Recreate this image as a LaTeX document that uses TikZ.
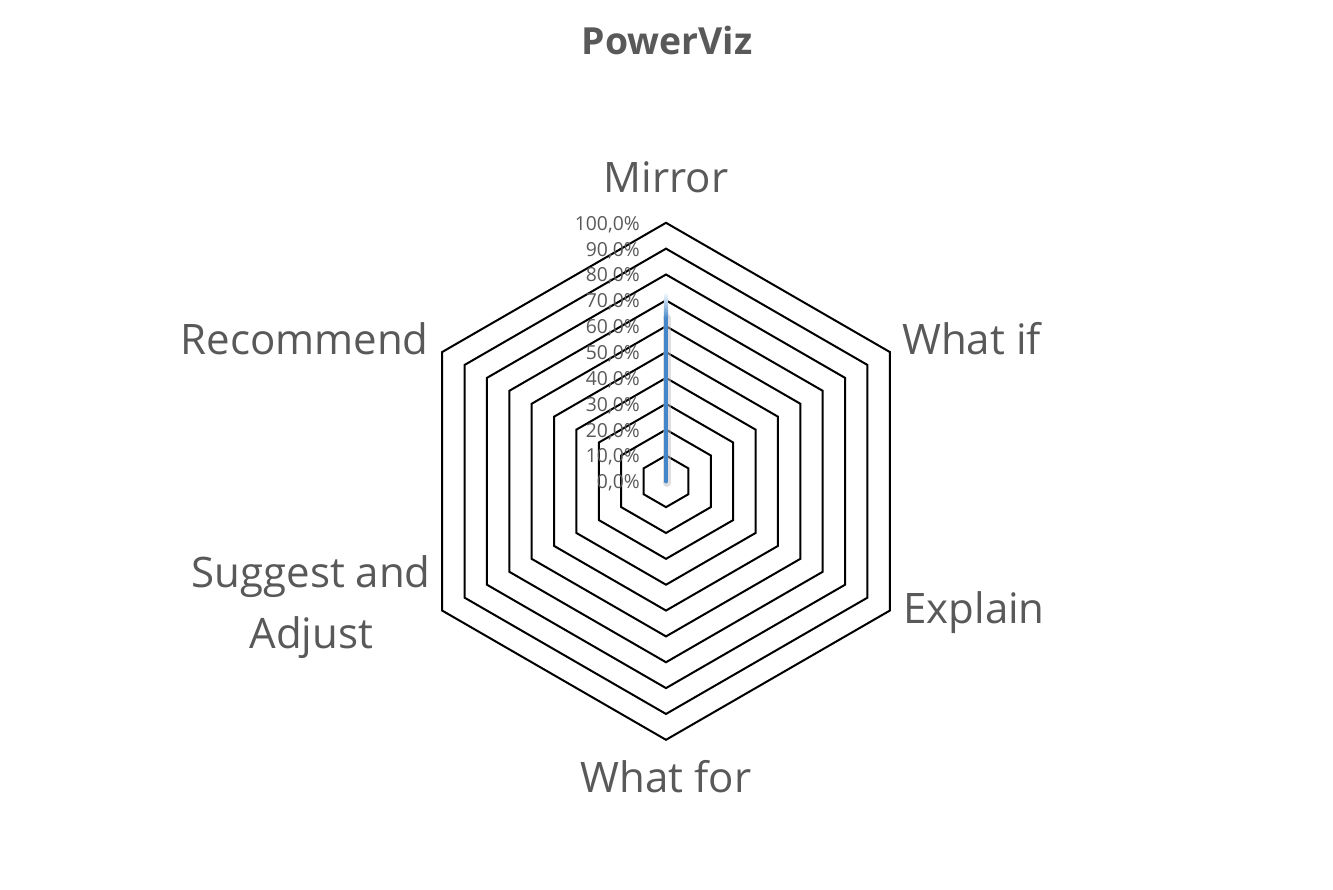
\documentclass[tikz,border=0pt]{standalone}
\usepackage{fontspec}
\usetikzlibrary{calc}
\setmainfont{Open Sans}
\definecolor{txtgray}{HTML}{595959}
\definecolor{serblue}{HTML}{4386C9}
\begin{document}
\begin{tikzpicture}[x=0.75pt,y=0.75pt,
  ring/.style={draw=black, line width=1.5pt, line join=miter},
  catlabel/.style={text=txtgray, inner sep=0pt, font=\fontsize{31.5}{45.75}\selectfont},
  ticklabel/.style={text=txtgray, inner sep=0pt, anchor=base east, font=\fontsize{14.5}{17}\selectfont},
  titlelabel/.style={text=txtgray, inner sep=0pt, anchor=base, font=\fontsize{28}{32}\selectfont\bfseries}]
\useasboundingbox[fill=white] (0,0) rectangle (1333,889);
\coordinate (c) at (666,407.7);
% rings
\foreach \k in {1,...,10}{
  \draw[ring] ($(c)+(90:25.85*\k)$) foreach \a in {30,-30,-90,-150,150} { -- ($(c)+(\a:25.85*\k)$) } -- cycle;
}
% tick labels
\foreach \k/\t in {0/0,1/10,2/20,3/30,4/40,5/50,6/60,7/70,8/80,9/90,10/100}{
  \node[ticklabel] (t\k) at (640, 407.7+25.85*\k-7.5) {\t,0\%};
}
% series line
\draw[black!25, line width=6pt, opacity=0.5, line cap=round] (667,406) -- (667,571);
\draw[serblue, line width=3.3pt, line cap=round] (c) -- (666,571);
\shade[bottom color=serblue, top color=white] (663.8,570.5) rectangle (668.2,597);
% category labels
\node[catlabel, anchor=base] (mirror) at (666,696) {Mirror};
\node[catlabel, anchor=base west] (whatif) at (902,534) {What if};
\node[catlabel, anchor=base west] (explain) at (903,266) {Explain};
\node[catlabel, anchor=base] (whatfor) at (666,97) {What for};
\node[catlabel, anchor=base east] (recommend) at (429,534) {Recommend};
\node[catlabel, anchor=base east, align=center] (suggest) at (431,241) {Suggest and\\Adjust};
% title
\node[titlelabel] (title) at (667,834) {PowerViz};
\end{tikzpicture}
\end{document}
